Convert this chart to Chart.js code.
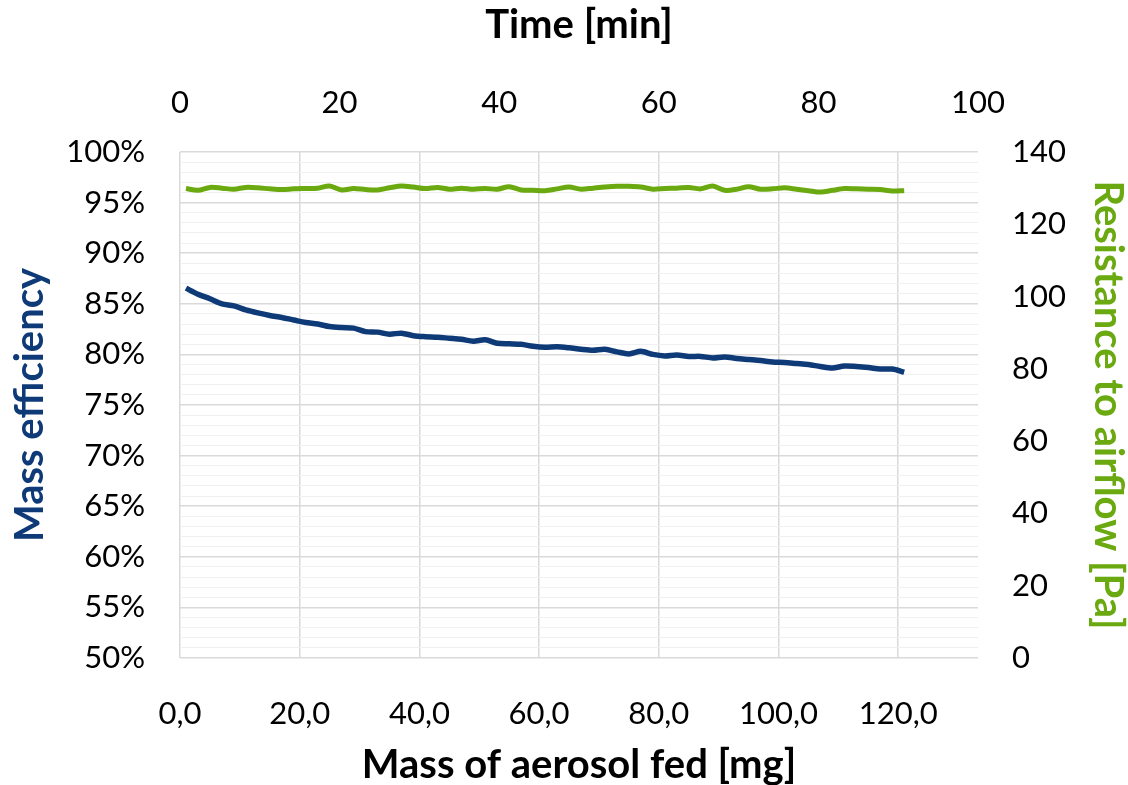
<!DOCTYPE html>
<html>
<head>
<meta charset="utf-8">
<script src="https://cdn.jsdelivr.net/npm/chart.js@4/dist/chart.umd.min.js"></script>
<style>
  body { margin: 0; background: #fff; }
  canvas { display: block; }
</style>
</head>
<body>
<canvas id="chart" width="1128" height="785"></canvas>
<script>
// Mass of aerosol fed [mg] (x values shared by both series)
const massFed = [
  1, 3, 5, 7, 9, 11, 13, 15, 17, 19,
  21, 23, 25, 27, 29, 31, 33, 35, 37, 39,
  41, 43, 45, 47, 49, 51, 53, 55, 57, 59,
  61, 63, 65, 67, 69, 71, 73, 75, 77, 79,
  81, 83, 85, 87, 89, 91, 93, 95, 97, 99,
  101, 103, 105, 107, 109, 111, 113, 115, 117, 119,
  121
];

// Mass efficiency [%] (left axis)
const massEfficiency = [
  86.55, 85.95, 85.5, 85.0, 84.8, 84.4, 84.1, 83.85, 83.65, 83.4,
  83.15, 83.0, 82.75, 82.65, 82.6, 82.25, 82.2, 82.0, 82.1, 81.85,
  81.75, 81.7, 81.6, 81.5, 81.3, 81.45, 81.1, 81.05, 81.0, 80.8,
  80.7, 80.75, 80.65, 80.5, 80.4, 80.5, 80.25, 80.05, 80.3, 80.0,
  79.85, 79.95, 79.8, 79.8, 79.65, 79.75, 79.6, 79.5, 79.4, 79.25,
  79.2, 79.1, 79.0, 78.8, 78.65, 78.85, 78.8, 78.7, 78.55, 78.55,
  78.25
];

// Resistance to airflow [Pa] (right axis)
const resistance = [
  129.9, 129.4, 130.2, 130.0, 129.7, 130.2, 130.1, 129.8, 129.6, 129.8,
  129.9, 130.0, 130.6, 129.5, 129.9, 129.6, 129.5, 130.1, 130.6, 130.3,
  129.9, 130.2, 129.7, 130.0, 129.7, 129.9, 129.7, 130.4, 129.5, 129.4,
  129.3, 129.8, 130.3, 129.7, 130.0, 130.3, 130.5, 130.5, 130.3, 129.7,
  129.9, 130.0, 130.2, 129.8, 130.6, 129.4, 129.7, 130.4, 129.7, 129.8,
  130.1, 129.7, 129.3, 128.9, 129.4, 129.9, 129.8, 129.7, 129.6, 129.2,
  129.3
];

// Tick labels
const massTicks = [0, 20, 40, 60, 80, 100, 120];
const timeTicks = [0, 20, 40, 60, 80, 100];
const resistanceTicks = [0, 20, 40, 60, 80, 100, 120, 140];

const BLUE = '#0f3a78';
const GREEN = '#6aa90f';
const FONT = "Lato, 'Open Sans', sans-serif";

const tickFont = { family: FONT, size: 31 };
const titleFont = { family: FONT, size: 40, weight: 'bold', lineHeight: 1 };

function toPoints(ys) {
  return massFed.map((m, i) => ({ x: m, y: ys[i] }));
}

new Chart(document.getElementById('chart'), {
  type: 'scatter',
  data: {
    datasets: [
      {
        label: 'Mass efficiency',
        data: toPoints(massEfficiency),
        xAxisID: 'x',
        yAxisID: 'y',
        showLine: true,
        borderColor: BLUE,
        borderWidth: 5.5,
        pointRadius: 0,
        tension: 0.3,
      },
      {
        label: 'Resistance to airflow',
        data: toPoints(resistance),
        xAxisID: 'x',
        yAxisID: 'y2',
        showLine: true,
        borderColor: GREEN,
        borderWidth: 5,
        pointRadius: 0,
        tension: 0.3,
      },
    ],
  },
  options: {
    responsive: false,
    animation: false,
    layout: { padding: 0 },
    plugins: {
      legend: { display: false },
      tooltip: { enabled: false },
    },
    scales: {
      x: {
        type: 'linear',
        position: 'bottom',
        min: 0,
        max: 133.33,
        afterBuildTicks: (axis) => { axis.ticks = massTicks.map(v => ({ value: v })); },
        afterFit: (axis) => { axis.height = 127; },
        grid: { color: '#d9d9d9', lineWidth: 1.5, drawTicks: false },
        border: { display: false },
        ticks: {
          color: '#000',
          font: tickFont,
          padding: 37,
          maxRotation: 0,
          callback: (v) => v.toFixed(1).replace('.', ','),
        },
        title: {
          display: true,
          text: 'Mass of aerosol fed [mg]',
          color: '#000',
          font: titleFont,
          padding: { top: 0, bottom: 0 },
        },
      },
      xTime: {
        type: 'linear',
        position: 'top',
        min: 0,
        max: 100,
        afterBuildTicks: (axis) => { axis.ticks = timeTicks.map(v => ({ value: v })); },
        afterFit: (axis) => { axis.height = 152; },
        grid: { display: false, drawTicks: false },
        border: { display: false },
        ticks: { color: '#000', font: tickFont, padding: 30, maxRotation: 0 },
        title: {
          display: true,
          text: 'Time [min]',
          color: '#000',
          font: titleFont,
          padding: { top: 5, bottom: 0 },
        },
      },
      y: {
        type: 'linear',
        position: 'left',
        min: 50,
        max: 100,
        afterFit: (axis) => { axis.width = 180; },
        grid: {
          drawTicks: false,
          color: (ctx) => (ctx.tick.value % 5 === 0 ? '#d9d9d9' : '#f0f0f0'),
          lineWidth: (ctx) => (ctx.tick.value % 5 === 0 ? 1.5 : 1),
        },
        border: { display: false },
        ticks: {
          stepSize: 1,
          autoSkip: false,
          color: '#000',
          font: tickFont,
          padding: 35,
          callback: (v) => (v % 5 === 0 ? v + '%' : ''),
        },
        title: {
          display: true,
          text: 'Mass efficiency',
          color: BLUE,
          font: titleFont,
          padding: { top: 10, bottom: 0 },
        },
      },
      y2: {
        type: 'linear',
        position: 'right',
        min: 0,
        max: 140,
        afterBuildTicks: (axis) => { axis.ticks = resistanceTicks.map(v => ({ value: v })); },
        afterFit: (axis) => { axis.width = 150; },
        grid: { drawOnChartArea: false, drawTicks: false },
        border: { display: false },
        ticks: { color: '#000', font: tickFont, padding: 34 },
        title: {
          display: true,
          text: 'Resistance to airflow [Pa]',
          color: GREEN,
          font: titleFont,
          padding: { top: 0, bottom: 0 },
        },
      },
    },
  },
});
</script>
</body>
</html>
